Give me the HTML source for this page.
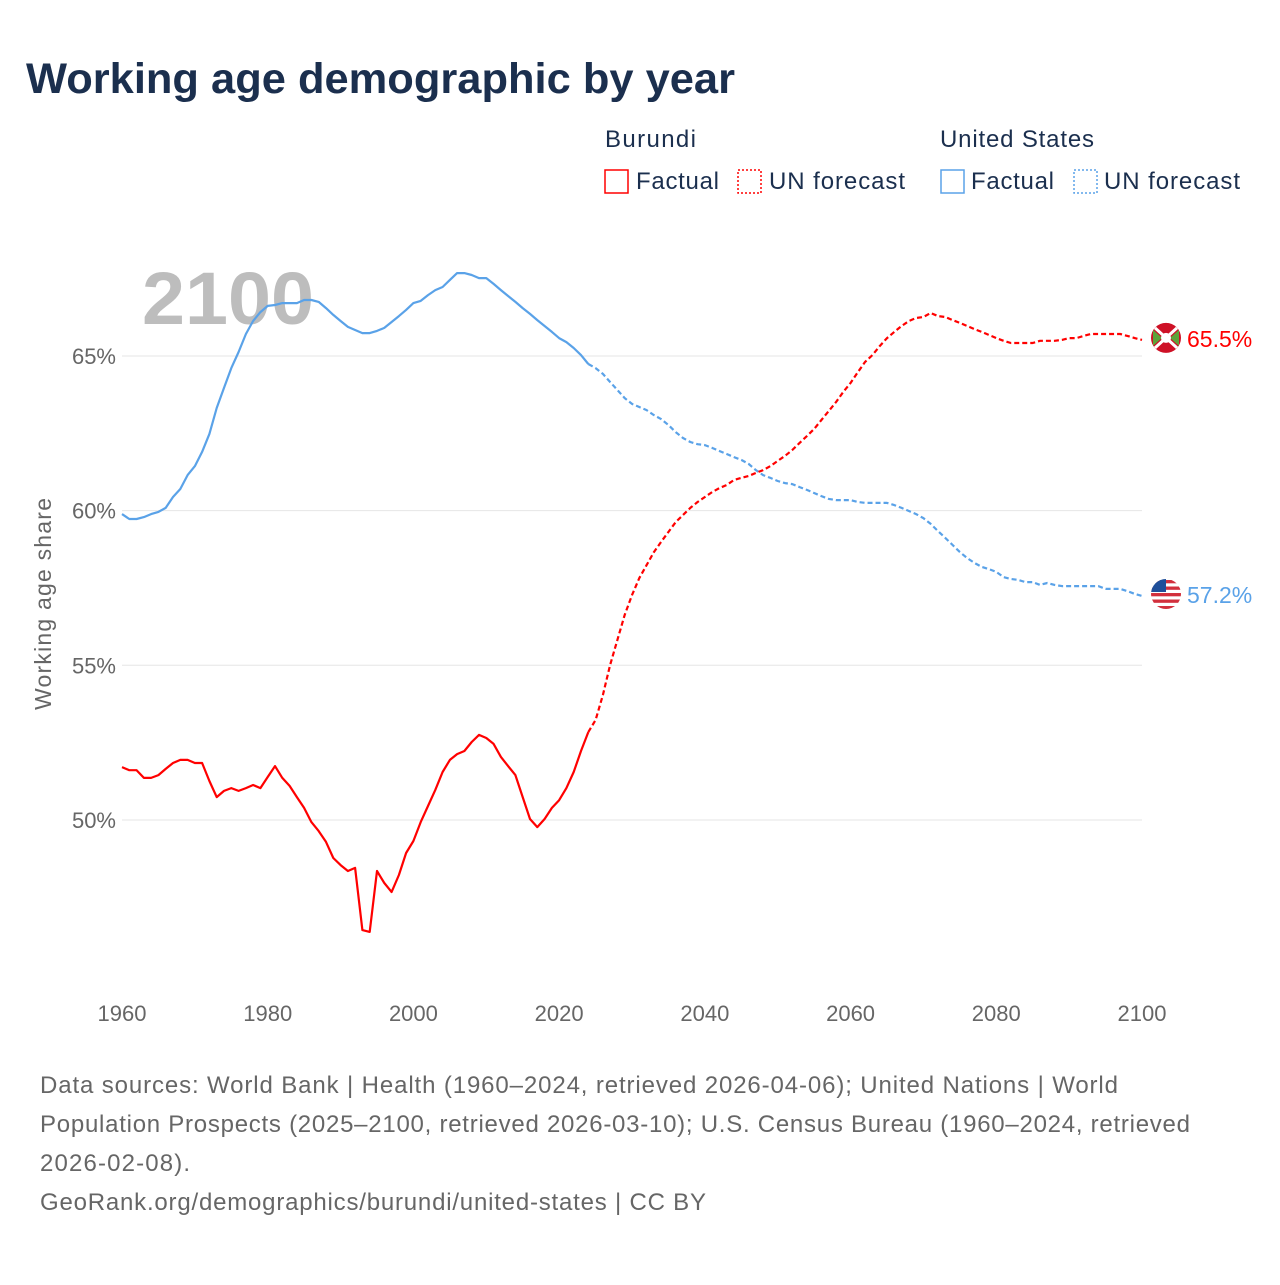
<!DOCTYPE html>
<html><head><meta charset="utf-8"><style>
body{margin:0;background:#fff;width:1280px;height:1280px;overflow:hidden;font-family:"Liberation Sans",sans-serif}
</style></head><body>
<svg width="1280" height="1280">
<defs><clipPath id="usclip"><circle cx="1166" cy="595" r="15"/></clipPath></defs>
<text x="26" y="93" font-size="43" font-weight="bold" fill="#1b2f4e" textLength="709" lengthAdjust="spacingAndGlyphs">Working age demographic by year</text>
<g font-size="24" fill="#1b2f4e">
<text x="605" y="147" textLength="91">Burundi</text>
<text x="940" y="147" textLength="154">United States</text>
<g><rect x="605" y="170" width="23" height="23" fill="none" stroke="#ff0000" stroke-width="1.5"/><text x="636" y="189" textLength="83">Factual</text></g>
<g><rect x="738" y="170" width="23" height="23" fill="none" stroke="#ff0000" stroke-width="1.5" stroke-dasharray="2,2"/><text x="769" y="189" textLength="136">UN forecast</text></g>
<g><rect x="941" y="170" width="23" height="23" fill="none" stroke="#5aa2e8" stroke-width="1.5"/><text x="971" y="189" textLength="83">Factual</text></g>
<g><rect x="1074" y="170" width="23" height="23" fill="none" stroke="#5aa2e8" stroke-width="1.5" stroke-dasharray="2,2"/><text x="1104" y="189" textLength="136">UN forecast</text></g>
</g>
<text x="142" y="324" font-size="74" font-weight="bold" fill="#bdbdbd" textLength="172" lengthAdjust="spacingAndGlyphs">2100</text>
<g id="grid"></g>
<g id="series"></g>
<text transform="translate(51,604) rotate(-90)" text-anchor="middle" font-size="23" fill="#666" textLength="212">Working age share</text>
<g font-size="24" fill="#666" lengthAdjust="spacingAndGlyphs">
<text x="40" y="1093" textLength="1078">Data sources: World Bank | Health (1960–2024, retrieved 2026-04-06); United Nations | World</text>
<text x="40" y="1132" textLength="1150">Population Prospects (2025–2100, retrieved 2026-03-10); U.S. Census Bureau (1960–2024, retrieved</text>
<text x="40" y="1171" textLength="150">2026-02-08).</text>
<text x="40" y="1210" textLength="666">GeoRank.org/demographics/burundi/united-states | CC BY</text>
</g>
</svg>
<script>
const bdiFactYears=[];for(let y=1960;y<=2024;y++)bdiFactYears.push(y);
const bdiFact=[51.71,51.61,51.61,51.36,51.36,51.45,51.65,51.84,51.94,51.94,51.84,51.84,51.26,50.74,50.94,51.03,50.94,51.03,51.13,51.03,51.39,51.74,51.36,51.10,50.74,50.39,49.93,49.64,49.29,48.77,48.54,48.35,48.45,46.44,46.38,48.35,47.96,47.67,48.22,48.93,49.32,49.93,50.45,50.97,51.55,51.94,52.13,52.23,52.52,52.75,52.65,52.46,52.04,51.74,51.45,50.74,50.03,49.77,50.03,50.39,50.64,51.03,51.55,52.23,52.84];
const bdiFcYears=[];for(let y=2024;y<=2100;y++)bdiFcYears.push(y);
const bdiFc=[52.84,53.23,54.04,55.01,55.82,56.63,57.27,57.82,58.24,58.66,58.99,59.31,59.63,59.86,60.09,60.28,60.44,60.60,60.73,60.83,60.99,61.06,61.12,61.22,61.31,61.44,61.61,61.77,61.96,62.19,62.41,62.64,62.93,63.22,63.51,63.84,64.13,64.48,64.81,65.03,65.32,65.58,65.78,65.97,66.13,66.23,66.26,66.39,66.29,66.26,66.16,66.07,65.97,65.87,65.78,65.68,65.58,65.49,65.42,65.42,65.42,65.42,65.49,65.49,65.49,65.52,65.58,65.58,65.65,65.71,65.71,65.71,65.71,65.71,65.65,65.58,65.52];
const usFactYears=bdiFactYears;
const usFact=[59.89,59.73,59.73,59.79,59.89,59.96,60.09,60.44,60.70,61.15,61.44,61.90,62.48,63.32,63.97,64.61,65.13,65.71,66.13,66.42,66.62,66.65,66.71,66.71,66.71,66.81,66.81,66.75,66.55,66.33,66.13,65.94,65.84,65.74,65.74,65.81,65.91,66.10,66.29,66.49,66.71,66.78,66.97,67.13,67.23,67.46,67.68,67.68,67.62,67.52,67.52,67.33,67.13,66.94,66.75,66.55,66.36,66.16,65.97,65.78,65.58,65.45,65.26,65.03,64.74];
const usFcYears=bdiFcYears;
const usFc=[64.74,64.61,64.42,64.16,63.90,63.64,63.45,63.35,63.25,63.09,62.96,62.77,62.54,62.35,62.22,62.15,62.12,62.03,61.93,61.83,61.73,61.64,61.51,61.31,61.15,61.06,60.96,60.89,60.86,60.76,60.67,60.57,60.47,60.38,60.34,60.34,60.34,60.28,60.25,60.25,60.25,60.25,60.18,60.09,59.99,59.89,59.76,59.57,59.34,59.12,58.89,58.66,58.47,58.31,58.18,58.11,58.02,57.85,57.79,57.76,57.69,57.69,57.60,57.66,57.60,57.56,57.56,57.56,57.56,57.56,57.56,57.47,57.47,57.47,57.40,57.31,57.24];
const yTicks=[50,55,60,65];
const xTicks=[1960,1980,2000,2020,2040,2060,2080,2100];
const NS='http://www.w3.org/2000/svg';
const X=y=>122+(y-1960)*(1020/140);
const Y=v=>356-(v-65)*30.93;
function mk(t,a,p){const e=document.createElementNS(NS,t);for(const k in a)e.setAttribute(k,a[k]);p.appendChild(e);return e;}
const grid=document.getElementById('grid'),ser=document.getElementById('series');
yTicks.forEach(v=>{
 const l=mk('line',{x1:122,x2:1142,y1:Y(v),y2:Y(v),stroke:'#e6e6e6','stroke-width':1},grid);
 
 
 const t=mk('text',{x:116,y:Y(v)+8,'text-anchor':'end','font-size':22,fill:'#666'},grid);
 t.textContent=v+'%';
 
 
});
xTicks.forEach(v=>{
 const t=mk('text',{x:X(v),y:1021,'text-anchor':'middle','font-size':22,fill:'#666'},grid);
 t.textContent=v;
 
 
});
function line(xs,vs,color,dash,name){
 const d=xs.map((y,i)=>(i?'L':'M')+X(y).toFixed(1)+','+Y(vs[i]).toFixed(1)).join('');
 const p=mk('path',{d:d,fill:'none',stroke:color,'stroke-width':2.2,'stroke-linejoin':'round'},ser);
 if(dash)p.setAttribute('stroke-dasharray','5,3');
 
 
}
line(usFactYears,usFact,'#5aa2e8',false,'us-factual-line');
line(usFcYears,usFc,'#5aa2e8',true,'us-forecast-line');
line(bdiFactYears,bdiFact,'#ff0000',false,'burundi-factual-line');
line(bdiFcYears,bdiFc,'#ff0000',true,'burundi-forecast-line');
const bv=bdiFc[bdiFc.length-1],uv=usFc[usFc.length-1];
const gb=mk('g',{},ser);


const by=Y(bv)-2;
mk('circle',{cx:1166,cy:by,r:15,fill:'#ce1126'},gb);
mk('path',{d:`M1153,${by-8}L1162,${by}L1153,${by+8}ZM1179,${by-8}L1170,${by}L1179,${by+8}Z`,fill:'#5ea33a'},gb);
mk('path',{d:`M1155,${by-10}L1177,${by+10}M1155,${by+10}L1177,${by-10}`,stroke:'#fff','stroke-width':3},gb);
mk('circle',{cx:1166,cy:by,r:5,fill:'#fff'},gb);
const bt=mk('text',{x:1187,y:by+9,'font-size':23,fill:'#ff0000'},ser);
bt.textContent=bv.toFixed(1)+'%';


const uy=Y(uv)-2;
document.querySelector('#usclip circle').setAttribute('cy',uy);
const gu=mk('g',{'clip-path':'url(#usclip)'},ser);


mk('rect',{x:1150,y:uy-16,width:32,height:32,fill:'#fff'},gu);
for(let i=0;i<5;i++)mk('rect',{x:1150,y:uy-14+i*6.5,width:32,height:3.3,fill:'#d22f3c'},gu);
mk('rect',{x:1150,y:uy-16,width:16,height:14,fill:'#1f4f9a'},gu);
const ut=mk('text',{x:1187,y:uy+9,'font-size':23,fill:'#5aa2e8'},ser);
ut.textContent=uv.toFixed(1)+'%';


</script>
</body></html>
